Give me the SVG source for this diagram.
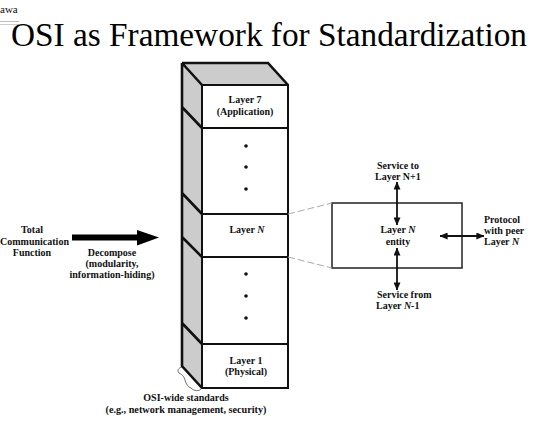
<svg xmlns="http://www.w3.org/2000/svg" width="550" height="430" viewBox="0 0 550 430">
<style>
text{font-family:"Liberation Serif","Times New Roman",serif;fill:#111}
.l{font-size:10px;font-weight:bold;text-anchor:middle}
.s{font-size:10px;font-weight:bold}
.t{font-size:33.3px;fill:#000}
.k{stroke:#111;fill:none;stroke-width:2}
.d{stroke:#111;fill:none;stroke-width:2.6}
.g{stroke:#aaa;fill:none;stroke-width:1;stroke-dasharray:7 3}
.b{stroke:#111;stroke-width:1.8;fill:none}
</style>
<defs>
<marker id="a" viewBox="0 0 10 10" refX="9.5" refY="5" markerWidth="8" markerHeight="7" markerUnits="userSpaceOnUse" orient="auto-start-reverse" preserveAspectRatio="none"><path d="M0 0L10 5L0 10Z" fill="#111"/></marker>
</defs>
<rect width="550" height="430" fill="#fff"/>
<text x="0" y="13" font-size="11">awa</text>
<rect x="0" y="21" width="19" height="1" fill="#bbb"/>
<rect x="0" y="24" width="19" height="1" fill="#ccc"/>
<text class="t" x="11" y="46">OSI as Framework for Standardization</text>
<g id="stack">
<path d="M182 63H268L288 85H202Z" fill="#ccc"/>
<path d="M182 63L202 85V388L182 366Z" fill="#ccc"/>
<rect x="202" y="85" width="86" height="303" fill="#fff"/>
<path class="d" d="M182 63H268L288 85M182 63L202 85M182 63V366L202 388M182 107L202 128M182 193L202 214M182 237L202 257M182 323L202 344"/>
<path class="k" d="M202 85H288V388H202ZM202 128H288M202 214H288M202 257H288M202 344H288"/>
</g>
<g id="layer7"><text class="l" x="245" y="103">Layer 7</text><text class="l" x="245" y="115">(Application)</text></g>
<g id="dots-upper" fill="#111"><circle cx="246" cy="146" r="1.8"/><circle cx="246" cy="167" r="1.8"/><circle cx="246" cy="189" r="1.8"/></g>
<g id="layerN"><text class="l" x="247" y="233">Layer <tspan font-style="italic">N</tspan></text></g>
<g id="dots-lower" fill="#111"><circle cx="246" cy="274" r="1.8"/><circle cx="246" cy="296" r="1.8"/><circle cx="246" cy="318" r="1.8"/></g>
<g id="layer1"><text class="l" x="246" y="364">Layer 1</text><text class="l" x="246" y="375">(Physical)</text></g>
<g id="total"><text class="l" x="32" y="233">Total</text><text class="l" x="34.500" y="245">Communication</text><text class="l" x="32" y="256">Function</text></g>
<g id="decompose"><text class="l" x="112" y="256">Decompose</text><text class="l" x="112" y="267">(modularity,</text><text class="l" x="112" y="278">information-hiding)</text></g>
<g id="entity"><rect x="332" y="203" width="130" height="65" fill="#fff" stroke="#222" stroke-width="1.5"/><text class="l" x="398" y="233">Layer <tspan font-style="italic">N</tspan></text><text class="l" x="398" y="245">entity</text></g>
<g id="service-up"><text class="s" x="377" y="169">Service to</text><text class="s" x="375" y="180">Layer N+1</text></g>
<g id="service-down"><text class="s" x="377" y="298">Service from</text><text class="s" x="376" y="309">Layer <tspan font-style="italic">N</tspan>-1</text></g>
<g id="protocol"><text class="s" x="484" y="223">Protocol</text><text class="s" x="484" y="234">with peer</text><text class="s" x="484" y="245">Layer <tspan font-style="italic">N</tspan></text></g>
<g id="standards"><text class="l" x="186" y="401" font-size="10.200">OSI-wide standards</text><text class="l" x="186" y="413" style="font-size:10.2px">(e.g., network management, security)</text></g>
<g id="connectors">
<path d="M72 237.500H137" stroke="#000" stroke-width="6" fill="none"/>
<path d="M137 230L159 237.500L137 245.500Z" fill="#000"/>
<path class="g" d="M288 214L332 203M288 257L332 268"/>
<path class="b" d="M397 182V225" marker-start="url(#a)" marker-end="url(#a)"/>
<path class="b" d="M397 248V290" marker-start="url(#a)" marker-end="url(#a)"/>
<path class="b" d="M440 236H484" marker-start="url(#a)" marker-end="url(#a)"/>
<path d="M182 367C178 368 177 371 179 373C183 375 184 377 185 380C186 384 188 387 191 388C194 391 199 392 202 388" stroke="#333" stroke-width=".7" fill="none"/>
</g>
</svg>
